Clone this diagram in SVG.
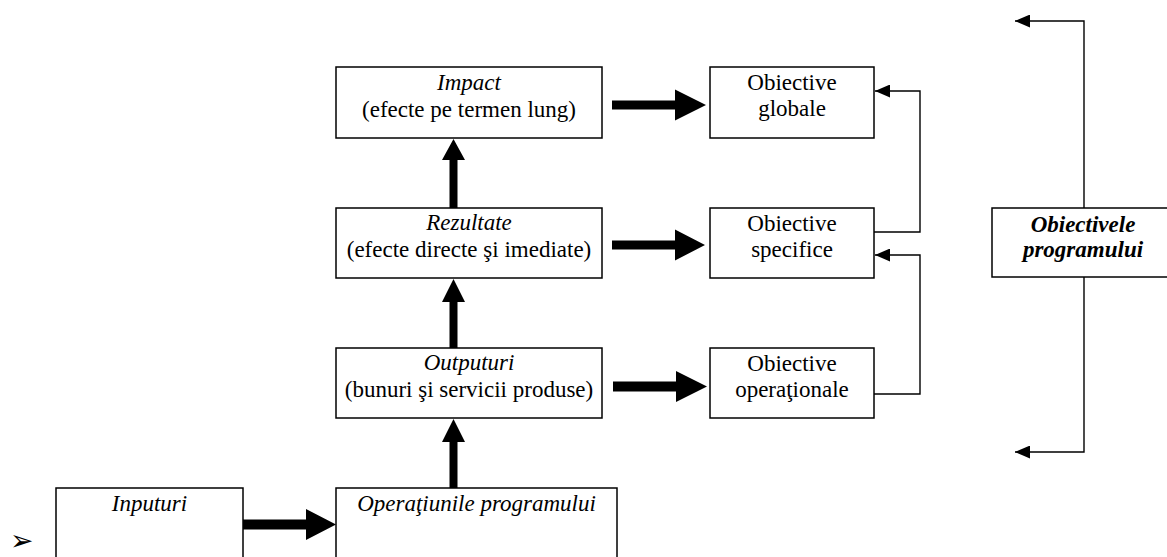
<svg xmlns="http://www.w3.org/2000/svg" width="1167" height="557" viewBox="0 0 1167 557">
<style>
.box{fill:#fff;stroke:#000;stroke-width:1.5}
.t{font-family:"Liberation Serif","Times New Roman",serif;font-size:23px;fill:#000;text-anchor:middle}
.i{font-style:italic}
.b{font-weight:bold}
.thin{fill:none;stroke:#000;stroke-width:1.4}
.thick{fill:#000;stroke:none}
</style>
<defs>
<marker id="ah" markerWidth="15" markerHeight="13" refX="15" refY="6.5" orient="auto" markerUnits="userSpaceOnUse">
<path d="M0,0 L15,6.5 L0,13 Z" fill="#000"/>
</marker>
</defs>
<g id="connectors">
<path class="thick" d="M612,100.5 H675 V89.5 L706,105 L675,120.5 V109.5 H612 Z"/>
<path class="thick" d="M612,240.5 H675 V229.5 L705,245 L675,260.5 V249.5 H612 Z"/>
<path class="thick" d="M613,381.5 H676 V371 L707,386.5 L676,402 V391.5 H613 Z"/>
<path class="thick" d="M243,519.5 H306 V509 L336,524.5 L306,540 V529.5 H243 Z"/>
<path class="thick" d="M449.5,208 V160 H442 L453.5,139 L465,160 H457.5 V208 Z"/>
<path class="thick" d="M449.5,348 V302 H442 L453.5,279 L465,302 H457.5 V348 Z"/>
<path class="thick" d="M449.5,488 V442 H442 L453.5,419 L465,442 H457.5 V488 Z"/>
<path class="thin" d="M874,232 H920 V91 H875" marker-end="url(#ah)"/>
<path class="thin" d="M874,394 H920 V255 H875" marker-end="url(#ah)"/>
<path class="thin" d="M1084,208 V21 H1015" marker-end="url(#ah)"/>
<path class="thin" d="M1084,277 V452 H1015" marker-end="url(#ah)"/>
</g>
<g id="impact">
<rect class="box" x="336" y="67" width="266" height="71"/>
<text class="t i" x="469" y="90">Impact</text>
<text class="t" x="469" y="117">(efecte pe termen lung)</text>
</g>
<g id="rezultate">
<rect class="box" x="336" y="208" width="266" height="70"/>
<text class="t i" x="469" y="230">Rezultate</text>
<text class="t" x="469" y="257">(efecte directe şi imediate)</text>
</g>
<g id="outputuri">
<rect class="box" x="336" y="348" width="266" height="70"/>
<text class="t i" x="469" y="370">Outputuri</text>
<text class="t" x="469" y="397">(bunuri şi servicii produse)</text>
</g>
<g id="operatiuni">
<rect class="box" x="336" y="488" width="281" height="80"/>
<text class="t i" x="476.5" y="511">Operaţiunile programului</text>
</g>
<g id="inputuri">
<rect class="box" x="56" y="488" width="187" height="80"/>
<text class="t i" x="149.5" y="511">Inputuri</text>
</g>
<g id="ob-globale">
<rect class="box" x="710" y="67" width="164" height="71"/>
<text class="t" x="792" y="90">Obiective</text>
<text class="t" x="792" y="116">globale</text>
</g>
<g id="ob-specifice">
<rect class="box" x="710" y="208" width="164" height="70"/>
<text class="t" x="792" y="231">Obiective</text>
<text class="t" x="792" y="257">specifice</text>
</g>
<g id="ob-operationale">
<rect class="box" x="710" y="348" width="164" height="70"/>
<text class="t" x="792" y="371">Obiective</text>
<text class="t" x="792" y="397">operaţionale</text>
</g>
<g id="ob-programului">
<rect class="box" x="992" y="208" width="190" height="69"/>
<text class="t i b" x="1083" y="232">Obiectivele</text>
<text class="t i b" x="1083" y="257">programului</text>
</g>
<g id="bullet">
<text x="10" y="550" style="font-family:'DejaVu Sans',sans-serif;font-size:28px">➢</text>
</g>
</svg>
